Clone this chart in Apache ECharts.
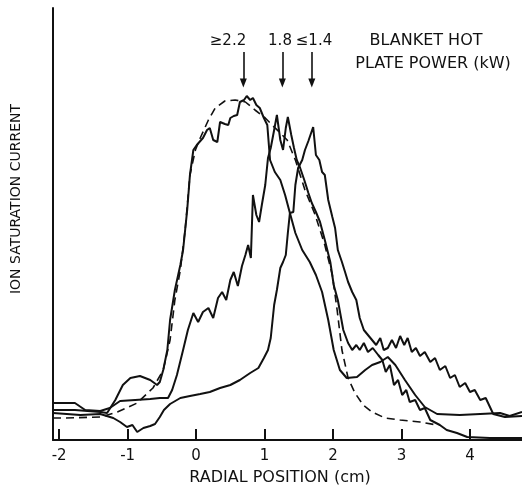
<!DOCTYPE html>
<html>
<head>
    <meta charset="utf-8">
    <title>ion saturation current</title>
    <script src="https://cdn.jsdelivr.net/npm/echarts@6/dist/echarts.min.js"></script>
</head>
<body style="margin:0;background:#fff;">
    <div id="main" style="width: 522px;height:487px;"></div>
    <script type="text/javascript">
        // radial position (cm) and ion saturation current (arb. units)
        var xTicks = [-2, -1, 0, 1, 2, 3, 4];

        var power22 = [[-2.09,30],[-1.77,30],[-1.40,28],[-1.30,27],[-1.18,40],[-1.07,55],[-0.96,62],[-0.82,64],
            [-0.67,60],[-0.57,55],[-0.53,58],[-0.48,70],[-0.42,90],[-0.38,120],[-0.31,150],[-0.23,175],[-0.19,190],
            [-0.16,210],[-0.13,230],[-0.09,265],[-0.04,290],[0.01,295],[0.10,302],[0.16,310],[0.20,312],[0.25,300],
            [0.31,298],[0.35,318],[0.42,316],[0.47,315],[0.50,322],[0.55,324],[0.60,325],[0.64,338],[0.70,340],
            [0.74,344],[0.79,340],[0.83,342],[0.88,335],[0.93,332],[0.99,322],[1.04,315],[1.08,280],[1.15,268],
            [1.23,260],[1.30,245],[1.37,227],[1.45,207],[1.55,190],[1.66,178],[1.75,165],[1.84,148],[1.93,120],
            [2.01,90],[2.10,70],[2.20,62],[2.35,63],[2.47,70],[2.57,75],[2.69,78],[2.80,83],[2.91,75],[3.05,60],
            [3.20,45],[3.34,33],[3.52,26],[3.85,25],[4.15,26],[4.44,27],[4.58,24],[4.76,28]];

        var power18 = [[-2.09,37],[-1.77,37],[-1.62,30],[-1.40,29],[-1.26,32],[-1.11,39],[-0.89,40],[-0.67,41],
            [-0.53,42],[-0.41,42],[-0.35,50],[-0.28,65],[-0.19,90],[-0.12,110],[-0.04,127],[0.03,118],[0.10,128],
            [0.18,132],[0.25,122],[0.32,142],[0.38,148],[0.44,140],[0.50,160],[0.55,168],[0.61,154],[0.67,174],
            [0.72,185],[0.76,195],[0.80,182],[0.83,245],[0.88,225],[0.92,218],[0.96,235],[1.01,255],[1.05,282],
            [1.09,292],[1.14,310],[1.18,325],[1.23,300],[1.27,290],[1.31,312],[1.34,323],[1.39,305],[1.43,292],
            [1.47,280],[1.52,272],[1.58,260],[1.64,247],[1.69,237],[1.75,228],[1.81,218],[1.88,200],[1.96,178],
            [2.01,155],[2.07,140],[2.15,110],[2.22,97],[2.28,90],[2.34,95],[2.39,90],[2.45,97],[2.51,88],[2.58,92],
            [2.66,85],[2.72,80],[2.77,68],[2.83,75],[2.89,55],[2.95,60],[3.01,45],[3.07,50],[3.12,38],[3.20,40],
            [3.27,30],[3.34,32],[3.42,20],[3.56,15],[3.66,10],[3.81,7],[3.96,3],[4.29,2],[4.76,2]];

        var power14 = [[-2.09,27],[-1.69,25],[-1.40,26],[-1.21,22],[-1.11,18],[-1.01,13],[-0.93,15],[-0.86,8],
            [-0.77,12],[-0.67,14],[-0.60,16],[-0.53,23],[-0.47,30],[-0.38,36],[-0.23,42],[-0.09,44],[0.06,46],
            [0.20,48],[0.35,52],[0.50,55],[0.64,60],[0.79,67],[0.91,72],[0.99,82],[1.05,90],[1.09,102],[1.14,135],
            [1.18,150],[1.23,172],[1.27,178],[1.31,185],[1.34,207],[1.37,227],[1.42,228],[1.45,255],[1.49,272],
            [1.55,280],[1.59,290],[1.64,299],[1.68,307],[1.71,313],[1.75,285],[1.80,280],[1.84,268],[1.88,265],
            [1.93,240],[1.99,223],[2.03,212],[2.07,190],[2.13,178],[2.18,167],[2.22,158],[2.28,148],[2.34,140],
            [2.39,122],[2.45,110],[2.51,105],[2.57,100],[2.63,95],[2.69,102],[2.74,90],[2.80,92],[2.86,100],
            [2.92,92],[2.98,104],[3.04,95],[3.09,102],[3.15,88],[3.21,92],[3.27,84],[3.34,88],[3.42,78],[3.49,82],
            [3.56,70],[3.64,74],[3.71,62],[3.78,65],[3.85,53],[3.93,57],[4.00,48],[4.07,50],[4.15,40],[4.23,42],
            [4.34,26],[4.51,23],[4.76,24]];

        var model = [[-2.09,22],[-1.91,22],[-1.40,23],[-1.15,28],[-0.86,37],[-0.63,52],[-0.48,70],[-0.38,100],
            [-0.31,140],[-0.23,170],[-0.16,210],[-0.09,265],[-0.01,290],[0.06,302],[0.18,320],[0.28,332],
            [0.42,339],[0.57,340],[0.72,338],[0.86,330],[1.01,322],[1.11,315],[1.23,307],[1.33,300],[1.45,280],
            [1.59,250],[1.74,225],[1.88,195],[1.99,165],[2.06,130],[2.13,90],[2.22,62],[2.32,47],[2.44,35],
            [2.57,28],[2.76,22],[2.98,20],[3.27,18],[3.52,15]];

        // arrow positions (cm) for the three power labels
        var arrowX = [0.69, 1.26, 1.69];
        var arrowTop = 388, arrowBottom = 357;

        var ink = '#111';
        var font = 'DejaVu Sans';

        var arrows = arrowX.map(function (x) {
            return [{coord: [x, arrowTop]}, {coord: [x, arrowBottom]}];
        });

        function trace(name, data, dashed) {
            return {
                name: name,
                type: 'line',
                data: data,
                showSymbol: false,
                silent: true,
                lineStyle: {color: ink, width: dashed ? 1.6 : 2, type: dashed ? [8, 5] : 'solid'}
            };
        }

        var series = [
            trace('model', model, true),
            trace('>=2.2', power22, false),
            trace('1.8', power18, false),
            trace('<=1.4', power14, false)
        ];
        series[0].markLine = {
            silent: true,
            animation: false,
            symbol: ['none', 'triangle'],
            symbolSize: [7, 9],
            symbolRotate: 180,
            label: {show: false},
            lineStyle: {color: ink, width: 1.6, type: 'solid'},
            data: arrows
        };

        var myChart = echarts.init(document.getElementById('main'));
        var option = {
            animation: false,
            backgroundColor: '#fff',
            grid: {left: 53, right: 0, top: 8, bottom: 47},
            xAxis: {
                type: 'value',
                min: -2.09,
                max: 4.76,
                splitLine: {show: false},
                axisLine: {onZero: false, lineStyle: {color: ink, width: 2}},
                axisTick: {inside: true, length: 11, customValues: xTicks, lineStyle: {color: ink, width: 2}},
                axisLabel: {customValues: xTicks, color: ink, fontSize: 15, fontFamily: font, margin: 9}
            },
            yAxis: {
                type: 'value',
                min: 0,
                max: 432,
                splitLine: {show: false},
                axisLine: {show: true, onZero: false, lineStyle: {color: ink, width: 2}},
                axisTick: {show: false},
                axisLabel: {show: false}
            },
            graphic: [
                {type: 'text', x: 16, y: 199, rotation: Math.PI / 2,
                    style: {text: 'ION SATURATION CURRENT', fill: ink, font: '14px ' + font, align: 'center', verticalAlign: 'middle'}},
                {type: 'text', x: 280, y: 478,
                    style: {text: 'RADIAL POSITION (cm)', fill: ink, font: '16px ' + font, align: 'center', verticalAlign: 'middle'}},
                {type: 'text', x: 228, y: 41,
                    style: {text: '≥2.2', fill: ink, font: '15px ' + font, align: 'center', verticalAlign: 'middle'}},
                {type: 'text', x: 280, y: 41,
                    style: {text: '1.8', fill: ink, font: '15px ' + font, align: 'center', verticalAlign: 'middle'}},
                {type: 'text', x: 314, y: 41,
                    style: {text: '≤1.4', fill: ink, font: '15px ' + font, align: 'center', verticalAlign: 'middle'}},
                {type: 'text', x: 426, y: 41,
                    style: {text: 'BLANKET HOT', fill: ink, font: '16px ' + font, align: 'center', verticalAlign: 'middle'}},
                {type: 'text', x: 433, y: 64,
                    style: {text: 'PLATE POWER (kW)', fill: ink, font: '16px ' + font, align: 'center', verticalAlign: 'middle'}}
            ],
            series: series
        };
        myChart.setOption(option);
    </script>
</body>
</html>
